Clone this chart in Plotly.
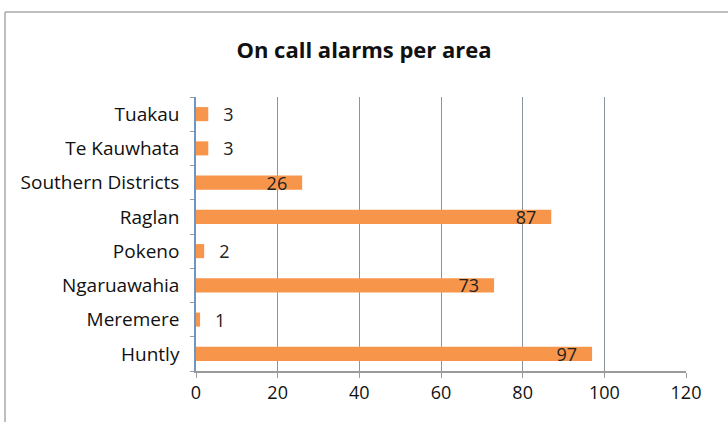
import plotly.graph_objects as go

# Alarm counts per area (bottom-to-top order as drawn)
areas = ["Huntly", "Meremere", "Ngaruawahia", "Pokeno", "Raglan",
         "Southern Districts", "Te Kauwhata", "Tuakau"]
alarms = [97, 1, 73, 2, 87, 26, 3, 3]
x_ticks = [0, 20, 40, 60, 80, 100, 120]

FONT = "Open Sans, Lato, sans-serif"
GAP = "\u2002\u2009"  # extra breathing room between bar end and its label

positions = ["inside" if v >= 10 else "outside" for v in alarms]
labels = [f"{v}{GAP}" if p == "inside" else f"{GAP}{v}"
          for v, p in zip(alarms, positions)]

fig = go.Figure(
    go.Bar(
        y=areas,
        x=alarms,
        orientation="h",
        marker=dict(color="#F7954A", line=dict(width=0)),
        text=labels,
        textposition=positions,
        insidetextanchor="end",
        textangle=0,
        constraintext="none",
        textfont=dict(family=FONT, size=18, color="#222222"),
        cliponaxis=False,
    )
)

# Chart frame: only the top and left edges fall inside the view
frame = dict(xref="paper", yref="paper", line=dict(color="#A8A8A8", width=1.5),
             layer="below")
x_left = -191 / 490
y_top = 1 + 85 / 274

fig.update_layout(
    width=728,
    height=422,
    margin=dict(l=196, r=42, t=97, b=51),
    paper_bgcolor="white",
    plot_bgcolor="white",
    bargap=0.59,
    showlegend=False,
    title=dict(
        text="<b>On call alarms per area</b>",
        x=0.5,
        xanchor="center",
        y=0.88,
        yanchor="middle",
        font=dict(family=FONT, size=22, color="#111111"),
    ),
    xaxis=dict(
        range=[0, 120],
        tickvals=x_ticks,
        showgrid=True,
        gridcolor="#8A949C",
        gridwidth=1.2,
        showline=True,
        linecolor="#9A9A9A",
        linewidth=1.5,
        ticks="outside",
        ticklen=5,
        tickcolor="#9A9A9A",
        tickfont=dict(family=FONT, size=18, color="#111111"),
        zeroline=False,
        fixedrange=True,
    ),
    yaxis=dict(
        categoryorder="array",
        categoryarray=areas,
        showline=True,
        linecolor="#6F95C0",
        linewidth=1.5,
        ticks="outside",
        ticklen=4,
        tickcolor="#9A9A9A",
        tickson="boundaries",
        ticklabelstandoff=11,
        tickfont=dict(family=FONT, size=19, color="#111111"),
        showgrid=False,
        fixedrange=True,
    ),
    shapes=[
        dict(type="line", x0=x_left, x1=1 + 60 / 490, y0=y_top, y1=y_top, **frame),
        dict(type="line", x0=x_left, x1=x_left, y0=-70 / 274, y1=y_top, **frame),
    ],
)

fig.write_html("out.html")
